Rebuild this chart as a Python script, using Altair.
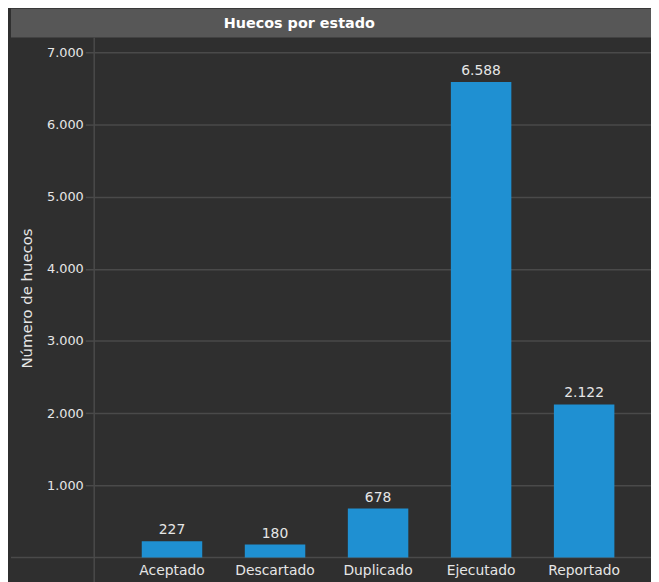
import altair as alt
import pandas as pd

categories = ["Aceptado", "Descartado", "Duplicado", "Ejecutado", "Reportado"]
values = [227, 180, 678, 6588, 2122]
y_ticks = [1000, 2000, 3000, 4000, 5000, 6000, 7000]
title_text = "Huecos por estado"
y_title = "Número de huecos"

df = pd.DataFrame({"estado": categories, "huecos": values})
df["etiqueta"] = [f"{v:,}".replace(",", ".") for v in values]

W, H = 562, 524
TOP_GAP = 14  # space between view top and the 7.000 gridline
FONT = "DejaVu Sans"
TXT = "#e6e6e6"
GRID = "#4a4a4a"

x_enc = alt.X("estado:N", sort=categories, title=None,
              scale=alt.Scale(paddingInner=0.413, paddingOuter=0.4085, align=0.565),
              axis=alt.Axis(labelAngle=0, ticks=False, domain=False, grid=False,
                            labelPadding=6, labelColor=TXT, labelFont=FONT, labelFontSize=14))
y_enc = alt.Y("huecos:Q", title=y_title,
              scale=alt.Scale(domain=[0, 7000 * H / (H - TOP_GAP)], nice=False, zero=True),
              axis=alt.Axis(values=y_ticks, domain=False, grid=True, gridColor=GRID,
                            gridWidth=1.5, tickColor=GRID, tickSize=9, tickWidth=1.5,
                            labelPadding=2, labelColor=TXT, labelFont=FONT, labelFontSize=13,
                            labelExpr="replace(format(datum.value, ','), ',', '.')",
                            titleColor=TXT, titleFont=FONT, titleFontSize=15,
                            titleFontWeight="normal", titleX=-68, titleY=262,
                            titleAngle=270, titleBaseline="middle", titleAlign="center"))

base = alt.Chart(df)

bars = base.mark_bar(color="#1f90d2").encode(x=x_enc, y=y_enc)
labels = base.mark_text(baseline="bottom", dy=-4, color=TXT, font=FONT, fontSize=14).encode(
    x=alt.X("estado:N", sort=categories), y="huecos:Q", text="etiqueta:N")

head = alt.Chart(pd.DataFrame({"t": [title_text]}))
title_bar = head.mark_rect(color="#575757").encode(
    x=alt.value(-84), x2=alt.value(W + 2), y=alt.value(-30), y2=alt.value(-1))
title_mark = head.mark_text(color="#ffffff", font=FONT, fontSize=14.5, fontWeight="bold",
                            baseline="middle", align="center").encode(
    x=alt.value(207), y=alt.value(-15), text="t:N")
vline = head.mark_rule(color=GRID, strokeWidth=1.5).encode(
    x=alt.value(0), y=alt.value(-1), y2=alt.value(H + 30))
zero_line = head.mark_rule(color=GRID, strokeWidth=1.5).encode(
    x=alt.value(-84), x2=alt.value(W + 2), y=alt.value(H))

chart = alt.layer(title_bar, title_mark, vline, zero_line, bars, labels).properties(
    width=W, height=H,
    autosize=alt.AutoSizeParams(type="none"),
    padding={"left": 87, "top": 28, "right": 0, "bottom": 24},
    background="#2f2f2f",
).configure_view(stroke=None, fill="#2f2f2f")

chart.save("out.html", embed_options={"renderer": "svg", "actions": False})
